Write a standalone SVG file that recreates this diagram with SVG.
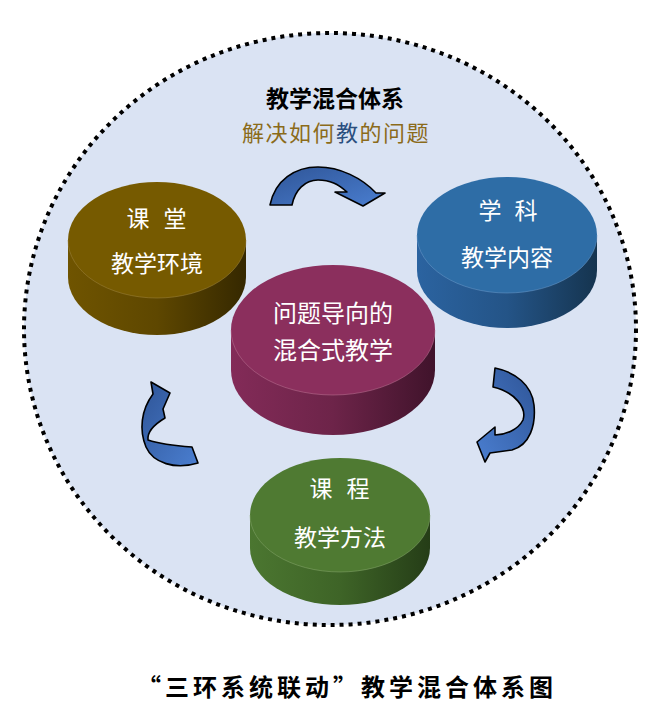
<svg xmlns="http://www.w3.org/2000/svg" width="659" height="708" viewBox="0 0 659 708">
<defs>
<style>
.lbl{font-family:"Noto Sans CJK SC","Noto Sans",sans-serif;fill:#ffffff;text-anchor:middle;}
.arrow{stroke:#000;stroke-width:1.6;stroke-linejoin:round;}
.rim{fill:none;stroke-width:1;opacity:0.5;}
</style>
<linearGradient id="gBrown" x1="0" x2="1" y1="0" y2="0"><stop offset="0" stop-color="#6F5400"/><stop offset="0.5" stop-color="#5E4700"/><stop offset="1" stop-color="#352800"/></linearGradient>
<linearGradient id="gBlue" x1="0" x2="1" y1="0" y2="0"><stop offset="0" stop-color="#2B63A0"/><stop offset="0.5" stop-color="#245487"/><stop offset="1" stop-color="#15344F"/></linearGradient>
<linearGradient id="gMag" x1="0" x2="1" y1="0" y2="0"><stop offset="0" stop-color="#832B58"/><stop offset="0.5" stop-color="#6D2449"/><stop offset="1" stop-color="#40132B"/></linearGradient>
<linearGradient id="gGreen" x1="0" x2="1" y1="0" y2="0"><stop offset="0" stop-color="#4B7630"/><stop offset="0.5" stop-color="#3E6427"/><stop offset="1" stop-color="#253D17"/></linearGradient>
<linearGradient id="gArrow" x1="0" x2="1" y1="0" y2="1"><stop offset="0" stop-color="#2F5597"/><stop offset="1" stop-color="#4A7ED0"/></linearGradient>
<linearGradient id="gArrow2" x1="1" x2="0" y1="0" y2="1"><stop offset="0" stop-color="#2F5597"/><stop offset="1" stop-color="#4A7ED0"/></linearGradient>
</defs>
<rect width="659" height="708" fill="#ffffff"/>
<g id="background">
<ellipse cx="330" cy="329" rx="306" ry="296" fill="#DAE3F3" stroke="#000" stroke-width="4" stroke-dasharray="4 5"/>
</g>
<g id="title">
<text x="335" y="107" font-family="'Noto Sans CJK SC',sans-serif" font-size="23" font-weight="700" text-anchor="middle" fill="#000">教学混合体系</text>
<text x="336" y="141" font-family="'Noto Sans CJK SC',sans-serif" font-size="22" letter-spacing="1.5" text-anchor="middle" fill="#8B6B1A">解决如何<tspan fill="#2B4F7E">教</tspan>的问题</text>
</g>
<g id="connectors">
<path class="arrow" fill="url(#gArrow)" d="M270,205 C275,180 295,167 318,167 C340,167 362,178 376,193 L385,193 L363,206 L335,192 L347,192 C338,184 330,180 318,180 C305,180 295,190 292,205 Z"/>
<path class="arrow" fill="url(#gArrow2)" d="M495,368 C515,372 532,385 534,405 C536,425 530,445 512,450 L490,453 L485,462 L477,442 L495,427 L495,435 C505,435 518,430 523,420 C527,408 515,392 493,387 Z"/>
<path class="arrow" fill="url(#gArrow)" d="M151,382 L170,393 L163,409 L165,418 C155,424 147,432 148,440 C160,444 178,446 192,447 L198,463 C175,470 153,463 146,447 C139,430 141,410 153,394 Z"/>
</g>
<g id="node-classroom">
<path d="M68,240 L68,277 A89,58 0 0 0 246,277 L246,240 Z" fill="url(#gBrown)"/>
<ellipse cx="157" cy="240" rx="89" ry="58" fill="#765A00"/>
<path class="rim" stroke="#A08540" d="M68,240 A89,58 0 0 0 246,240"/>
<text class="lbl" x="138" y="227" font-size="23">课</text>
<text class="lbl" x="175" y="227" font-size="23">堂</text>
<text class="lbl" x="157" y="272" font-size="23">教学环境</text>
</g>
<g id="node-subject">
<path d="M417,235 L417,270 A90,58 0 0 0 597,270 L597,235 Z" fill="url(#gBlue)"/>
<ellipse cx="507" cy="235" rx="90" ry="58" fill="#2E6DA6"/>
<path class="rim" stroke="#6E9CCB" d="M417,235 A90,58 0 0 0 597,235"/>
<text class="lbl" x="490" y="219" font-size="23">学</text>
<text class="lbl" x="526" y="219" font-size="23">科</text>
<text class="lbl" x="507" y="266" font-size="23">教学内容</text>
</g>
<g id="node-course">
<path d="M250,515 L250,548 A90,57 0 0 0 430,548 L430,515 Z" fill="url(#gGreen)"/>
<ellipse cx="340" cy="515" rx="90" ry="57" fill="#4F7A32"/>
<path class="rim" stroke="#88A86E" d="M250,515 A90,57 0 0 0 430,515"/>
<text class="lbl" x="321" y="497" font-size="23">课</text>
<text class="lbl" x="358" y="497" font-size="23">程</text>
<text class="lbl" x="340" y="546" font-size="23">教学方法</text>
</g>
<g id="node-center">
<path d="M231,330 L231,370 A102,65 0 0 0 435,370 L435,330 Z" fill="url(#gMag)"/>
<ellipse cx="333" cy="330" rx="102" ry="65" fill="#8B2F5D"/>
<path class="rim" stroke="#C07898" d="M231,330 A102,65 0 0 0 435,330"/>
<text class="lbl" x="333" y="322" font-size="24">问题导向的</text>
<text class="lbl" x="333" y="359" font-size="24">混合式教学</text>
</g>
<g id="caption">
<text x="347" y="696" font-family="'Noto Sans CJK SC',sans-serif" font-size="24" font-weight="700" letter-spacing="4" text-anchor="middle" fill="#000">“三环系统联动”教学混合体系图</text>
</g>
</svg>
